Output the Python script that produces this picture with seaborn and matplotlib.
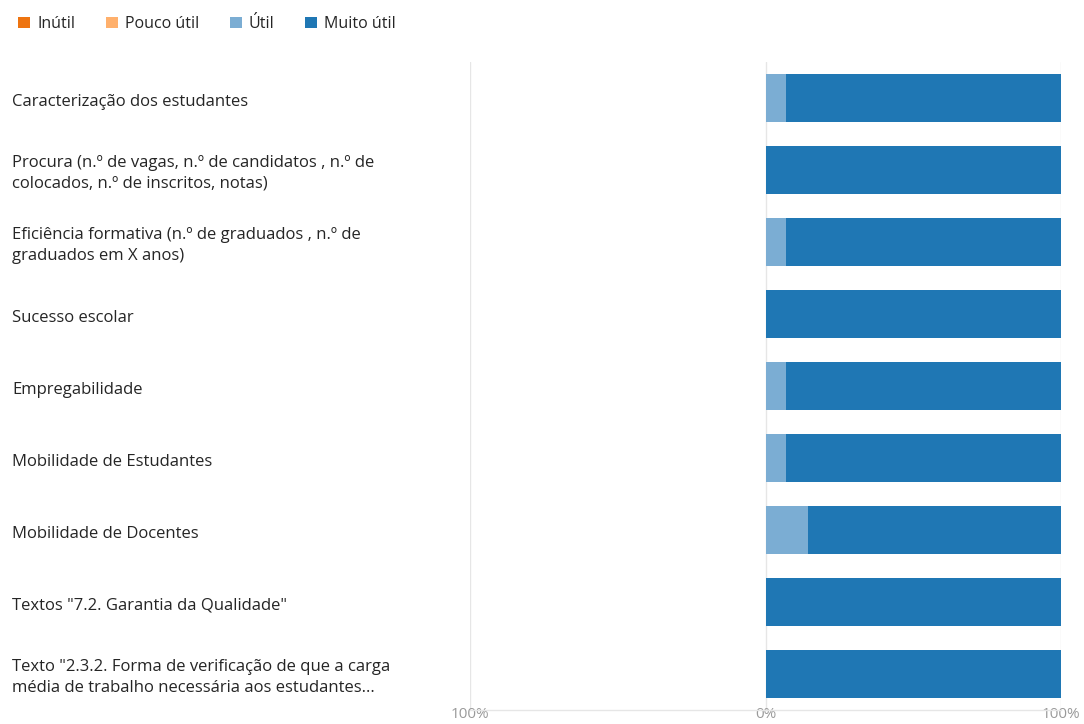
import seaborn as sns
import matplotlib.pyplot as plt
import matplotlib.transforms as mtransforms
from matplotlib.patches import Patch
import numpy as np
import pandas as pd

# data
questions = [
    'Caracterização dos estudantes',
    'Procura (n.º de vagas, n.º de candidatos , n.º de\ncolocados, n.º de inscritos, notas)',
    'Eficiência formativa (n.º de graduados , n.º de\ngraduados em X anos)',
    'Sucesso escolar',
    'Empregabilidade',
    'Mobilidade de Estudantes',
    'Mobilidade de Docentes',
    'Textos "7.2. Garantia da Qualidade"',
    'Texto "2.3.2. Forma de verificação de que a carga\nmédia de trabalho necessária aos estudantes...',
]
inutil = [0, 0, 0, 0, 0, 0, 0, 0, 0]
pouco_util = [0, 0, 0, 0, 0, 0, 0, 0, 0]
util = [7.1, 0, 7.1, 0, 7.1, 7.1, 14.3, 0, 0]
muito_util = [92.9, 100, 92.9, 100, 92.9, 92.9, 85.7, 100, 100]
categories = ['Inútil', 'Pouco útil', 'Útil', 'Muito útil']
colors = ['#EE7410', '#FFB06C', '#7BADD3', '#1F77B4']
ticks = [-100, 0, 100]
tick_labels = ['100%', '0%', '100%']

sns.set_theme(style='white')
plt.rcParams['font.family'] = ['Open Sans', 'DejaVu Sans']

df = pd.DataFrame({'question': questions, 'inutil': inutil, 'pouco': pouco_util,
                   'util': util, 'muito': muito_util})
df['pos_total'] = df.util + df.muito
df['neg_total'] = -(df.inutil + df.pouco)
df['neg_pouco'] = -df.pouco

fig = plt.figure(figsize=(10.84, 7.24), dpi=100)
ax = fig.add_axes([470 / 1084, 1 - 710 / 724, (1061 - 470) / 1084, (710 - 62) / 724])

bar_w = 0.67
for col, c in [('pos_total', colors[3]), ('util', colors[2]),
               ('neg_total', colors[0]), ('neg_pouco', colors[1])]:
    sns.barplot(data=df, y='question', x=col, color=c, orient='h',
                width=bar_w, ax=ax, saturation=1, linewidth=0, edgecolor='none')

ax.set_xlim(-100, 100)
ax.set_ylim(len(questions) - 0.5, -0.5)
ax.set_xticks(ticks)
ax.set_xticklabels(tick_labels, color='#9a9a9a', fontsize=11)
ax.tick_params(axis='x', length=0, pad=-2)
ax.set_yticks([])
ax.set_xlabel('')
ax.set_ylabel('')
for t in ticks:
    ax.axvline(t, color='#e6e6e6', lw=1, zorder=0)
for side in ['top', 'left', 'right']:
    ax.spines[side].set_visible(False)
ax.spines['bottom'].set_color('#e6e6e6')
ax.spines['bottom'].set_linewidth(1)

# question labels, left aligned at the figure edge, centred on each row
trans = mtransforms.blended_transform_factory(fig.transFigure, ax.transData)
for i, q in enumerate(questions):
    ax.text(12 / 1084, i + 0.05, q, transform=trans, ha='left', va='center',
            fontsize=12, color='#252525', linespacing=1.4)

handles = [Patch(facecolor=c, edgecolor='none') for c in colors]
fig.legend(handles, categories, loc='center left', bbox_to_anchor=(4 / 1084, 1 - 24 / 724),
           ncol=4, frameon=False, fontsize=11.5, handlelength=0.75, handleheight=0.75,
           handletextpad=0.45, columnspacing=1.9, labelcolor='#252525')

fig.savefig('out.png', dpi=100)
